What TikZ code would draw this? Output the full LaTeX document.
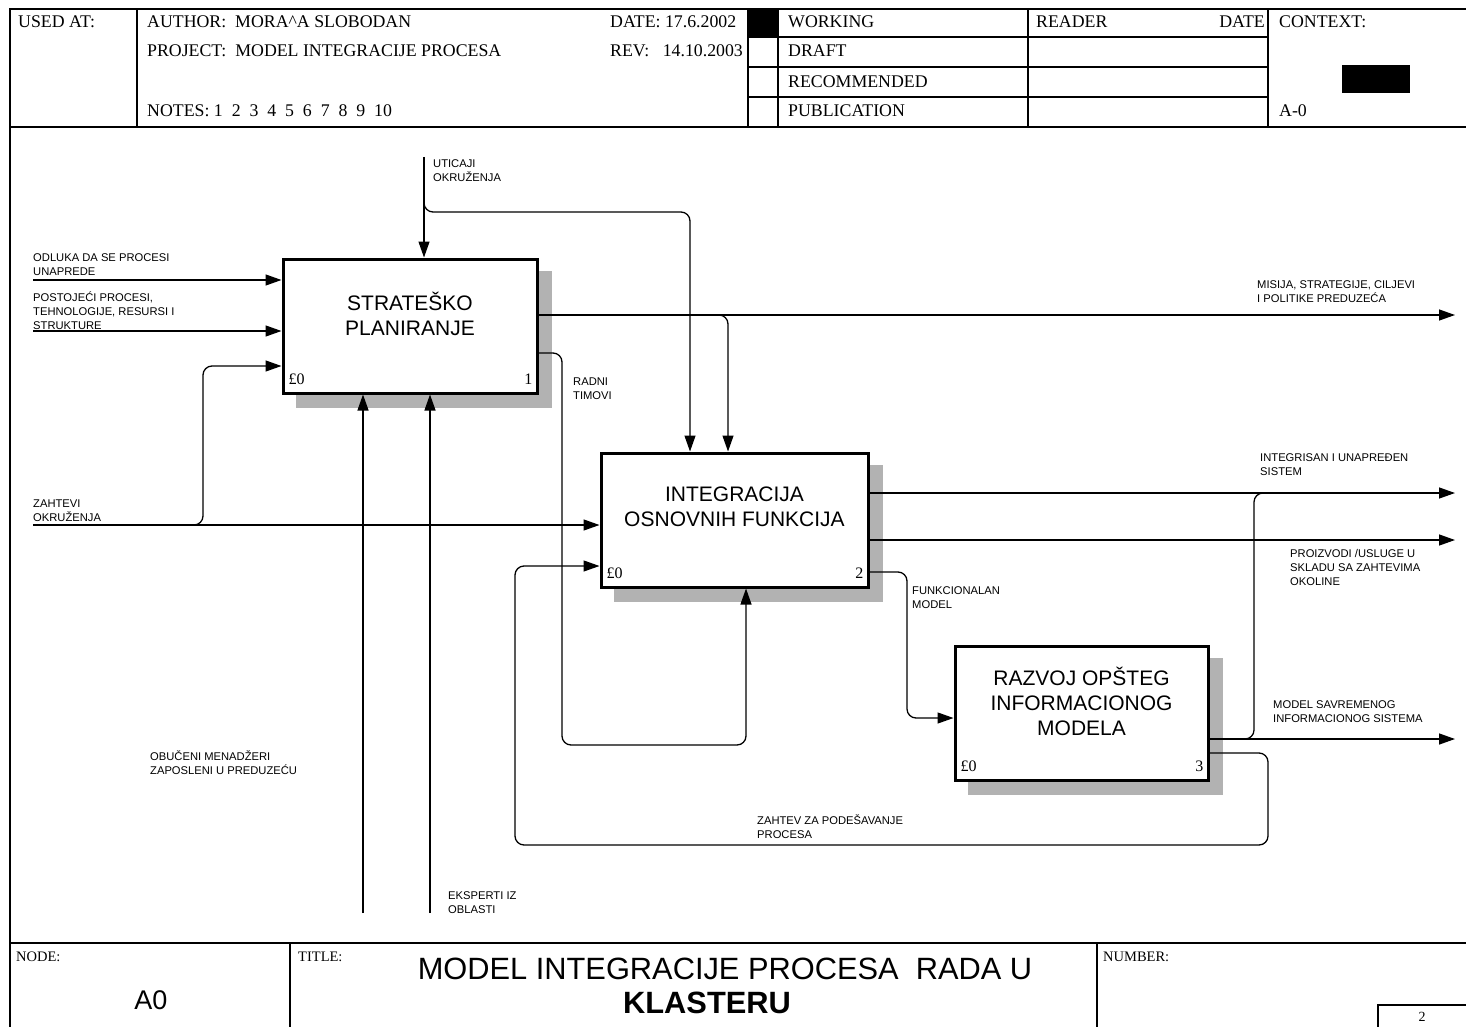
\documentclass[tikz,border=0pt]{standalone}
\usepackage{fontspec}
\setmainfont{Liberation Serif}
\setsansfont{Liberation Sans}
\usetikzlibrary{arrows.meta,calc,backgrounds}
\begin{document}
\begin{tikzpicture}[x=1pt,y=-1pt,
  frame/.style={line width=1.2pt},
  hdr/.style={font=\fontsize{17.8}{20}\selectfont, anchor=base west, inner sep=0},
  ftr/.style={font=\fontsize{14.5}{17}\selectfont, anchor=base west, inner sep=0},
  box/.style={draw, line width=3pt, fill=white, minimum height=134pt, inner sep=0},
  shad/.style={fill=black!30},
  boxtext/.style={font=\sffamily\fontsize{21}{25}\selectfont, align=center, inner sep=0},
  corner/.style={font=\fontsize{16}{18}\selectfont, inner sep=0},
  lab/.style={font=\sffamily\fontsize{11.2}{14}\selectfont, align=left, anchor=base west, inner sep=0},
  conn/.style={line width=1.3pt, rounded corners=9pt},
  arr/.style={conn, -{Triangle[length=16pt,width=11pt]}}
]
\useasboundingbox (0,0) rectangle (1466,1027);
% ---------------- frame ----------------
\draw[frame] (10,1027) -- (10,9) -- (1466,9);
\draw[frame] (10,127) -- (1466,127);
\draw[frame] (10,943) -- (1466,943);
\foreach \x in {137,748,778,1028,1268} \draw[frame] (\x,9) -- (\x,127);
\foreach \y in {37,67,97} \draw[frame] (748,\y) -- (1268,\y);
\fill (748,9) rectangle (778,37);
\fill (1342,65) rectangle (1410,93);
\draw[frame] (290,943) -- (290,1027);
\draw[frame] (1097,943) -- (1097,1027);
\draw[frame] (1378,1027) |- (1466,1005);
% header texts
\node[hdr] (usedat) at (18,28) {USED AT:};
\node[hdr] (author) at (147,28) {AUTHOR:\ \ MORA\^{}A SLOBODAN};
\node[hdr] (date) at (610,28) {DATE:\ 17.6.2002};
\node[hdr] (project) at (147,57) {PROJECT:\ \ MODEL INTEGRACIJE PROCESA};
\node[hdr] (rev) at (610,57) {REV:\ \ \ 14.10.2003};
\node[hdr] (notes) at (147,117) {NOTES:\ 1\ \ 2\ \ 3\ \ 4\ \ 5\ \ 6\ \ 7\ \ 8\ \ 9\ \ 10};
\node[hdr] (working) at (788,28) {WORKING};
\node[hdr] (draft) at (788,57) {DRAFT};
\node[hdr] (recom) at (788,88) {RECOMMENDED};
\node[hdr] (publ) at (788,117) {PUBLICATION};
\node[hdr] (reader) at (1036,28) {READER};
\node[hdr, anchor=base east] (rdate) at (1265,28) {DATE};
\node[hdr] (context) at (1279,28) {CONTEXT:};
\node[hdr] (azero) at (1279,117) {A-0};
% footer texts
\node[ftr] (nodelab) at (16,961) {NODE:};
\node[ftr] (titlelab) at (298,961) {TITLE:};
\node[ftr] (numberlab) at (1103,961) {NUMBER:};
\node[font=\sffamily\fontsize{27}{30}\selectfont, inner sep=0] (nodeA) at (151,1000) {A0};
\node[font=\sffamily\fontsize{30.8}{32}\selectfont, inner sep=0, anchor=base] (title1) at (725,979) {MODEL INTEGRACIJE PROCESA\ \ RADA U};
\node[font=\sffamily\bfseries\fontsize{30.8}{32}\selectfont, inner sep=0, anchor=base] (title2) at (707,1013) {KLASTERU};
\node[font=\fontsize{14}{16}\selectfont, inner sep=0] (num2) at (1422,1017) {2};
% ---------------- boxes ----------------
\node[box, minimum width=254pt] (b1) at (410,326) {};
\node[box, minimum width=267pt] (b2) at (734.5,520) {};
\node[box, minimum width=253pt] (b3) at (1081.5,713) {};
\begin{pgfonlayer}{background}
\foreach \b in {b1,b2,b3}
  \fill[shad] ($(\b.north west)+(14,13)$) rectangle ($(\b.south east)+(13,13)$);
\end{pgfonlayer}
\node[boxtext] (t1) at ($(b1)+(0,-12)$) {STRATEŠKO\\PLANIRANJE};
\node[boxtext] (t2) at ($(b2)+(0,-13)$) {INTEGRACIJA\\OSNOVNIH FUNKCIJA};
\node[boxtext] (t3) at ($(b3)+(0,-12)$) {RAZVOJ OPŠTEG\\INFORMACIONOG\\MODELA};
\foreach \b/\n in {b1/1,b2/2,b3/3}{
  \node[corner, anchor=base west] (\b f) at ($(\b.south west)+(7,-10)$) {£0};
  \node[corner, anchor=base east] (\b n) at ($(\b.south east)+(-6,-10)$) {\n};
}
% ---------------- connectors ----------------
% controls
\coordinate (uIn) at (424,157);
\coordinate (uBr) at (424,198);
\coordinate (uH) at (690,212);
\draw[arr] (uIn) -- (uIn |- b1.north);
\draw[arr] (uBr) -- (uBr |- uH) -- (uH) -- (uH |- b2.north);
\node[lab] (lu) at (433,182) {UTICAJI\\OKRUŽENJA};
% inputs to box 1
\coordinate (i1) at (33,280);
\coordinate (i2) at (33,331);
\draw[arr] (i1) -- (i1 -| b1.west);
\draw[arr] (i2) -- (i2 -| b1.west);
\node[lab] (l1) at (33,275) {ODLUKA DA SE PROCESI\\UNAPREDE};
\node[lab] (l2) at (33,329) {POSTOJEĆI PROCESI,\\TEHNOLOGIJE, RESURSI I\\STRUKTURE};
% ZAHTEVI OKRUZENJA
\coordinate (i3) at (33,525);
\coordinate (i3b) at (190,525);
\coordinate (zUp) at (203,366);
\draw[arr] (i3) -- (i3 -| b2.west);
\draw[arr] (i3b) -- (i3b -| zUp) -- (zUp) -- (zUp -| b1.west);
\node[lab] (l3) at (33,521) {ZAHTEVI\\OKRUŽENJA};
% outputs of box 1
\coordinate (o1) at (1455,315);
\coordinate (mBr) at (712,315);
\coordinate (mV) at (728,315);
\draw[arr] (b1.east |- o1) -- (o1);
\draw[arr] (mBr) -- (mV) -- (mV |- b2.north);
\node[lab] (lo1) at (1257,302) {MISIJA, STRATEGIJE, CILJEVI\\I POLITIKE PREDUZEĆA};
\coordinate (rA) at (562,353);
\coordinate (rB) at (562,745);
\coordinate (rC) at (746,745);
\draw[arr] (b1.east |- rA) -- (rA) -- (rB) -- (rC) -- (rC |- b2.south);
\node[lab] (lr) at (573,399) {RADNI\\TIMOVI};
% mechanisms of box 1
\coordinate (m1) at (363,913);
\coordinate (m2) at (430,913);
\draw[arr] (m1) -- (m1 |- b1.south);
\draw[arr] (m2) -- (m2 |- b1.south);
\node[lab] (lm1) at (150,774) {OBUČENI MENADŽERI\\ZAPOSLENI U PREDUZEĆU};
\node[lab] (lm2) at (448,913) {EKSPERTI IZ\\OBLASTI};
% outputs of box 2
\coordinate (o2) at (1455,493);
\coordinate (o3) at (1455,540);
\draw[arr] (b2.east |- o2) -- (o2);
\draw[arr] (b2.east |- o3) -- (o3);
\node[lab] (lo2) at (1260,475) {INTEGRISAN I UNAPREĐEN\\SISTEM};
\node[lab] (lo3) at (1290,585) {PROIZVODI /USLUGE U\\SKLADU SA ZAHTEVIMA\\OKOLINE};
\coordinate (f1) at (907,572);
\coordinate (f2) at (907,718);
\draw[arr] (b2.east |- f1) -- (f1) -- (f2) -- (f2 -| b3.west);
\node[lab] (lf) at (912,608) {FUNKCIONALAN\\MODEL};
% outputs of box 3
\coordinate (o4) at (1455,739);
\coordinate (j0) at (1238,739);
\coordinate (jV) at (1254,739);
\coordinate (j1) at (1272,493);
\draw[arr] (b3.east |- o4) -- (o4);
\draw[conn] (j0) -- (jV) -- (jV |- j1) -- (j1);
\node[lab] (lo4) at (1273,722) {MODEL SAVREMENOG\\INFORMACIONOG SISTEMA};
\coordinate (z1) at (1268,753);
\coordinate (z2) at (1268,845);
\coordinate (z3) at (515,845);
\coordinate (z4) at (515,566);
\draw[arr] (b3.east |- z1) -- (z1) -- (z2) -- (z3) -- (z4) -- (z4 -| b2.west);
\node[lab] (lz) at (757,838) {ZAHTEV ZA PODEŠAVANJE\\PROCESA};
\end{tikzpicture}
\end{document}
